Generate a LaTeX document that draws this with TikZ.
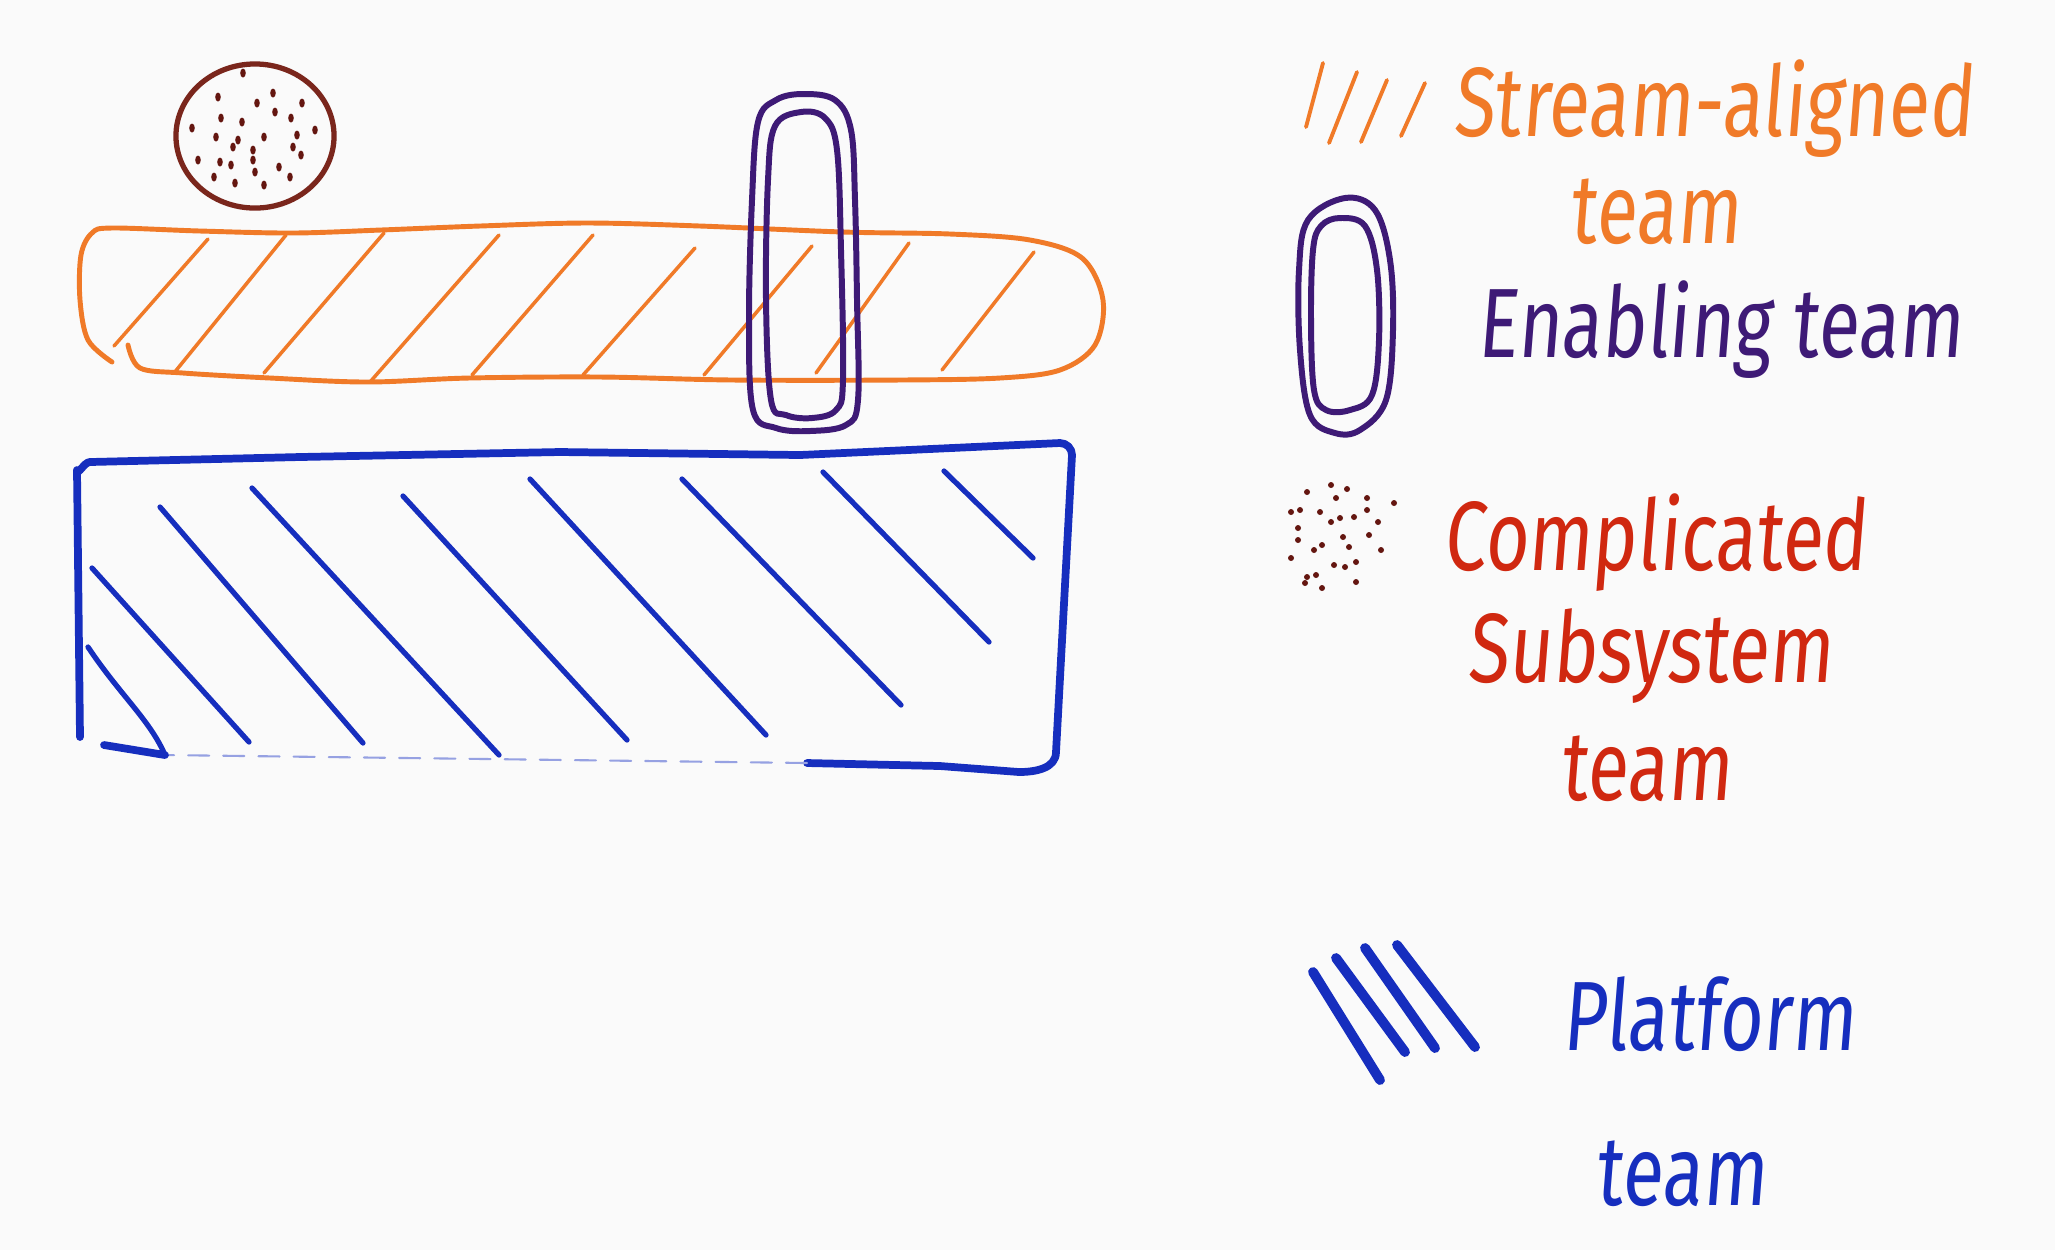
\documentclass[tikz,border=0pt]{standalone}
\usepackage{fontspec}
\newfontfamily\hand[FakeStretch=0.76,FakeSlant=0.08]{Fira Sans}
\definecolor{sorange}{RGB}{240,122,40}
\definecolor{epurple}{RGB}{62,26,118}
\definecolor{cbrown}{RGB}{122,38,28}
\definecolor{cdot}{RGB}{100,22,16}
\definecolor{cred}{RGB}{208,40,16}
\definecolor{pblue}{RGB}{22,46,190}
\definecolor{bg}{RGB}{250,250,250}
\begin{document}
\begin{tikzpicture}[x=0.01cm,y=-0.01cm,line cap=round,line join=round,
  barline/.style={draw=sorange,line width=1.4pt},
  ohatch/.style={draw=sorange,line width=1.0pt},
  epline/.style={draw=epurple,line width=1.7pt},
  bline/.style={draw=pblue,line width=2.2pt},
  bfaint/.style={draw=pblue!45,line width=0.6pt,dash pattern=on 6pt off 4pt},
  bhatch/.style={draw=pblue,line width=1.5pt},
  lgblue/.style={draw=pblue,line width=2.8pt},
  lgorange/.style={draw=sorange,line width=1.1pt},
  hw/.style={font=\hand\fontsize{28}{32}\selectfont,inner sep=0pt,anchor=base}]
\useasboundingbox (0,0) rectangle (2055,1250);
\fill[bg] (0,0) rectangle (2055,1250);

% ---- complicated subsystem circle ----
\draw[draw=cbrown,line width=1.5pt] (255,136) ellipse [x radius=0.79cm, y radius=0.72cm];
\foreach \px/\py in {243/73,218/97,257/103,273/93,302/103,221/118,242/122,275/112,291/118,
  192/128,315/130,216/137,238/140,264/137,297/135,233/147,253/150,293/147,198/160,220/162,
  253/160,279/167,301/155,255/172,214/177,235/183,264/185,290/177,231/165}
  \fill[cdot] (\px,\py) ellipse [x radius=0.028cm, y radius=0.045cm];

% ---- stream-aligned bar ----
\draw[barline] plot[smooth,tension=0.55] coordinates {(112,362) (88,340) (80,300) (81,255) (92,233) (112,228) (200,231) (293,233) (381,230) (480,226) (587,223) (700,226) (843,232) (950,234) (1030,240) (1082,258) (1103,300) (1095,345) (1060,370) (1000,378) (900,380) (733,380) (600,377) (469,378) (367,382) (270,378) (183,373) (140,368) (128,345)};
\foreach \ax/\ay/\bx/\by in {208/239/114/346, 286/235/174/373, 384/233/264/373, 499/235/370/382,
  593/235/472/375, 695/248/583/375, 812/246/704/375, 909/243/816/373, 1034/252/942/370}
  \draw[ohatch] (\ax,\ay) -- (\bx,\by);

% ---- enabling team oval (on bar) ----
\draw[epline] plot[smooth cycle,tension=0.6] coordinates {(803,94) (835,100) (851,130) (855,200) (857,300) (858,400) (846,425) (810,431) (776,428) (753,410) (749,320) (752,200) (758,122) (776,100)};
\draw[epline] plot[smooth cycle,tension=0.6] coordinates {(801,112) (825,118) (837,150) (841,250) (843,380) (836,410) (812,418) (786,415) (771,400) (766,300) (768,180) (775,126)};

% ---- platform rectangle ----
\draw[bline] (80,737) -- (77,470) to[out=-80,in=180] (90,462) -- (300,457) -- (560,452) -- (800,455) -- (1060,443) to[out=0,in=90] (1072,455) -- (1056,752) to[out=-90,in=0] (1019,772) -- (940,766) -- (807,763);
\draw[bfaint] (807,763) -- (165,755);
\draw[bline] (165,755) -- (104,745);
\foreach \ax/\ay/\bx/\by in {92/568/249/742, 160/507/363/743, 252/488/499/755, 403/496/627/740,
  530/479/766/735, 682/479/901/705, 823/472/989/642, 944/471/1033/558}
  \draw[bhatch] (\ax,\ay) -- (\bx,\by);
\draw[bhatch] (88,647) .. controls (120,695) and (150,720) .. (165,755);

% ---- legend: stream-aligned ----
\foreach \ax/\ay/\bx/\by in {1323/63/1306/127, 1357/72/1329/143, 1387/80/1361/142, 1425/83/1401/136}
  \draw[lgorange] (\ax,\ay) -- (\bx,\by);
\node[hw,text=sorange] (sa1) at (1713,136) {Stream-aligned};
\node[hw,text=sorange] (sa2) at (1655,243) {team};

% ---- legend: enabling ----
\draw[epline] plot[smooth cycle,tension=0.6] coordinates {(1345,198) (1375,210) (1390,260) (1393,330) (1386,400) (1360,430) (1335,433) (1310,415) (1300,350) (1299,270) (1308,220)};
\draw[epline] plot[smooth cycle,tension=0.6] coordinates {(1340,218) (1365,226) (1377,270) (1379,340) (1372,395) (1350,410) (1326,410) (1314,390) (1311,320) (1313,250) (1321,226)};
\node[hw,text=epurple] (en) at (1720,357) {Enabling team};

% ---- legend: complicated subsystem ----
\foreach \px/\py in {1307/492,1331/485,1347/489,1367/498,1394/503,1291/512,1300/510,1320/512,
  1336/498,1367/510,1331/522,1340/518,1354/517,1378/522,1298/528,1369/535,1298/540,1322/545,
  1343/537,1349/547,1314/550,1381/550,1291/558,1334/565,1345/567,1356/562,1307/577,1316/575,
  1305/583,1322/588,1356/582}
  \fill[cdot] (\px,\py) circle (0.03cm);
\node[hw,text=cred] (cs1) at (1655,570) {Complicated};
\node[hw,text=cred] (cs2) at (1650,682) {Subsystem};
\node[hw,text=cred] (cs3) at (1646,800) {team};

% ---- legend: platform ----
\foreach \ax/\ay/\bx/\by in {1313/972/1380/1080, 1336/958/1405/1052, 1365/948/1435/1048, 1397/945/1475/1047}
  \draw[lgblue] (\ax,\ay) -- (\bx,\by);
\node[hw,text=pblue] (pl1) at (1709,1050) {Platform};
\node[hw,text=pblue] (pl2) at (1681,1205) {team};
\end{tikzpicture}
\end{document}
